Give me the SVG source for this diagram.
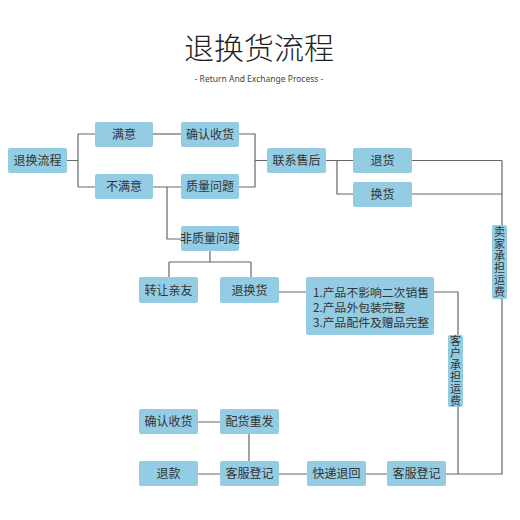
<svg xmlns="http://www.w3.org/2000/svg" width="520" height="520" viewBox="0 0 520 520">
<style>
.b{fill:#94cce3;}
.t{font-family:"Noto Sans CJK SC","Noto Sans",sans-serif;font-size:12px;fill:#333;text-anchor:middle;}
.v{font-family:"Noto Sans CJK SC","Noto Sans",sans-serif;font-size:11px;letter-spacing:1px;fill:#333;text-anchor:middle;writing-mode:vertical-rl;text-orientation:upright;}
.tl{font-family:"Noto Sans CJK SC","Noto Sans",sans-serif;font-size:11.8px;fill:#333;}
.c{fill:none;stroke:#666;stroke-width:1.2;}
</style>
<rect width="520" height="520" fill="#fff"/>
<text x="259" y="59" style="font-family:'Noto Sans CJK SC',sans-serif;font-size:30px;font-weight:300;fill:#222;text-anchor:middle">退换货流程</text>
<text x="259" y="82" style="font-family:'Noto Sans','Liberation Sans',sans-serif;font-size:8.5px;fill:#444;text-anchor:middle">- Return And Exchange Process -</text>
<g id="connectors">
<path class="c" d="M67 160.5H78M78 134V187M78 134H95M78 187H95"/>
<path class="c" d="M153 134H181"/>
<path class="c" d="M153 187H181M167 187V239H181"/>
<path class="c" d="M239 134H255V187H239M255 160.5H267"/>
<path class="c" d="M326 160.5H353M337 160.5V194H353"/>
<path class="c" d="M412 160.5H502M412 194H502M502 160.5V474H446"/>
<path class="c" d="M210 251V262M169 262H251M169 262V277M251 262V277"/>
<path class="c" d="M279 292H306M434 292H458V335M458 407V474"/>
<path class="c" d="M198 422H220M249 434V461"/>
<path class="c" d="M198 474H220M279 474H307M366 474H387"/>
</g>
<g id="n1"><rect class="b" x="8" y="148" width="59" height="25" rx="2"/><text class="t" x="37.5" y="165">退换流程</text></g>
<g id="n2"><rect class="b" x="95" y="122" width="58" height="25" rx="2"/><text class="t" x="124" y="139">满意</text></g>
<g id="n3"><rect class="b" x="95" y="174" width="58" height="25" rx="2"/><text class="t" x="124" y="191">不满意</text></g>
<g id="n4"><rect class="b" x="181" y="122" width="58" height="25" rx="2"/><text class="t" x="210" y="139">确认收货</text></g>
<g id="n5"><rect class="b" x="181" y="174" width="58" height="25" rx="2"/><text class="t" x="210" y="191">质量问题</text></g>
<g id="n6"><rect class="b" x="181" y="226" width="58" height="25" rx="2"/><text class="t" x="210" y="243">非质量问题</text></g>
<g id="n7"><rect class="b" x="267" y="148" width="59" height="25" rx="2"/><text class="t" x="296.5" y="165">联系售后</text></g>
<g id="n8"><rect class="b" x="353" y="148" width="59" height="25" rx="2"/><text class="t" x="382.5" y="165">退货</text></g>
<g id="n9"><rect class="b" x="353" y="182" width="59" height="25" rx="2"/><text class="t" x="382.5" y="199">换货</text></g>
<g id="n10"><rect class="b" x="492" y="225" width="15" height="74" rx="2"/><text class="v" x="499.5" y="262.5">卖家承担运费</text></g>
<g id="n11"><rect class="b" x="139" y="277" width="59" height="26" rx="2"/><text class="t" x="168.5" y="294.5">转让亲友</text></g>
<g id="n12"><rect class="b" x="220" y="277" width="59" height="26" rx="2"/><text class="t" x="249.5" y="294.5">退换货</text></g>
<g id="n13"><rect class="b" x="306" y="277" width="128" height="58" rx="2"/><text class="tl"><tspan x="313" y="296.5">1.产品不影响二次销售</tspan><tspan x="313" y="311.5">2.产品外包装完整</tspan><tspan x="313" y="327">3.产品配件及赠品完整</tspan></text></g>
<g id="n14"><rect class="b" x="448" y="335" width="15" height="72" rx="2"/><text class="v" x="455.5" y="371.5">客户承担运费</text></g>
<g id="n15"><rect class="b" x="139" y="409" width="59" height="25" rx="2"/><text class="t" x="168.5" y="426">确认收货</text></g>
<g id="n16"><rect class="b" x="220" y="409" width="59" height="25" rx="2"/><text class="t" x="249.5" y="426">配货重发</text></g>
<g id="n17"><rect class="b" x="139" y="461" width="59" height="25" rx="2"/><text class="t" x="168.5" y="478">退款</text></g>
<g id="n18"><rect class="b" x="220" y="461" width="59" height="25" rx="2"/><text class="t" x="249.5" y="478">客服登记</text></g>
<g id="n19"><rect class="b" x="307" y="461" width="59" height="25" rx="2"/><text class="t" x="336.5" y="478">快递退回</text></g>
<g id="n20"><rect class="b" x="387" y="461" width="59" height="25" rx="2"/><text class="t" x="416.5" y="478">客服登记</text></g>
</svg>
